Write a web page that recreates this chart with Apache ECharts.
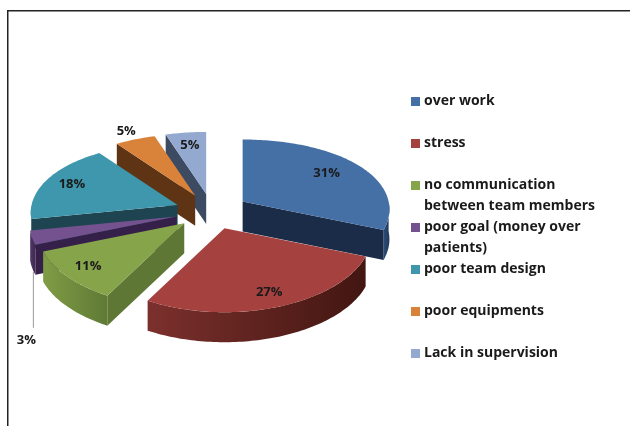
<!DOCTYPE html>
<html>
<head>
<meta charset="utf-8">
<style>html,body{margin:0;padding:0;background:#fff}#c{width:630px;height:426px}</style>
<script src="https://cdn.jsdelivr.net/npm/echarts@6/dist/echarts.min.js"></script>
</head>
<body>
<div id="c"></div>
<script>
// Causes, clockwise from twelve o'clock, with their percentage shares
const causes = ['over work', 'stress', 'no communication between team members',
  'poor goal (money over patients)', 'poor team design', 'poor equipments', 'Lack in supervision'];
const shares = [31, 27, 11, 3, 18, 5, 5];
const legendLines = [['over work'], ['stress'], ['no communication', 'between team members'],
  ['poor goal (money over', 'patients)'], ['poor team design'], ['poor equipments'], ['Lack in supervision']];

// Face, wall and rim colours per slice
const topColors  = ['#4570a6', '#a5423f', '#86a44a', '#74528f', '#3e97ad', '#d9833a', '#93a9cf'];
const wallColors = ['#1a2c47', '#5c201d', '#5f7735', '#35204a', '#1d4450', '#5e3414', '#3c4b62'];
const rimLeft    = ['#2d4d76', '#7c302d', '#7f9c45', '#523668', '#2a6a7a', '#9a5a25', '#5c6c88'];
const rimRight   = ['#20385a', '#421611', '#5f7a35', '#3f2850', '#1f4c58', '#7a4519', '#4a5970'];

// Back-to-front painting order of the slices
const paintOrder = [6, 5, 0, 4, 3, 2, 1];

// Pie projection: centre, radii, near/far bulge, extrusion and explosion
const CX = 212, CY = 211.5, RX = 146, RY = 73, BULGE_Y = 11, BULGE_X = 0.107, DEPTH = 30, EXPLODE = 37;

// Label anchors: radial fraction, or a fixed offset from the apex for outside labels
const labelFractions = [0.74, 0.82, 0.82, null, 0.81, 1.15, 0.8];

const total = shares.reduce((a, b) => a + b, 0);
const starts = [];
shares.reduce((acc, v, i) => { starts[i] = acc; return acc + v; }, 0);

function rimPoint(theta) {
  const s = Math.sin(theta), c = Math.cos(theta);
  return [RX * s * (1 - BULGE_X * c), -RY * c + BULGE_Y * c * c];
}

function renderSlice(params, api) {
  const i = params.seriesIndex;
  const value = api.value(0);
  const a0 = starts[i] / total * Math.PI * 2;
  const a1 = a0 + value / total * Math.PI * 2;
  const mid = (a0 + a1) / 2;
  const ax = CX + EXPLODE * Math.sin(mid);
  const ay = CY - EXPLODE * 0.48 * Math.cos(mid);
  const at = (t, d) => { const p = rimPoint(t); return [ax + p[0], ay + p[1] + (d || 0)]; };

  const arc = [];
  const steps = Math.max(6, Math.ceil((a1 - a0) / 0.02));
  for (let k = 0; k <= steps; k++) arc.push(at(a0 + (a1 - a0) * k / steps));

  const children = [];
  const wall = (t) => ({
    type: 'polygon',
    shape: { points: [[ax, ay], at(t), at(t, DEPTH), [ax, ay + DEPTH]] },
    style: { fill: wallColors[i] }
  });
  // A radial wall shows only when it faces the viewer
  if (at(a0)[0] < ax) children.push(wall(a0));
  if (at(a1)[0] > ax) children.push(wall(a1));

  // Outer rim on the near half of the pie
  const r0 = Math.max(a0, Math.PI / 2), r1 = Math.min(a1, Math.PI * 1.5);
  if (r1 > r0) {
    const upper = [], lower = [];
    const n = Math.ceil((r1 - r0) / 0.02) + 1;
    for (let k = 0; k <= n; k++) {
      const t = r0 + (r1 - r0) * k / n;
      upper.push(at(t));
      lower.unshift(at(t, DEPTH));
    }
    children.push({
      type: 'polygon',
      shape: { points: upper.concat(lower) },
      style: {
        fill: {
          type: 'linear', x: 0, y: 0, x2: 1, y2: 0,
          colorStops: [{ offset: 0, color: rimLeft[i] }, { offset: 1, color: rimRight[i] }]
        }
      }
    });
  }

  children.push({
    type: 'polygon',
    shape: { points: [[ax, ay]].concat(arc) },
    style: { fill: topColors[i] }
  });

  let lx, ly;
  const f = labelFractions[i];
  if (f === null) {
    // Small slice: label sits below the pie on a leader line
    const foot = at(a0, DEPTH * 0.9);
    children.push({
      type: 'line',
      shape: { x1: foot[0] - 2, y1: foot[1], x2: foot[0] - 2, y2: foot[1] + 56 },
      style: { stroke: '#9a9a9a', lineWidth: 1 }
    });
    lx = foot[0] - 9;
    ly = foot[1] + 68;
  } else {
    const p = rimPoint(mid);
    lx = ax + p[0] * f;
    ly = ay + p[1] * f;
  }
  children.push({
    type: 'text',
    z2: 10,
    style: {
      x: lx, y: ly, text: value + '%', align: 'center', verticalAlign: 'middle',
      font: 'bold 13px "Open Sans", Lato, sans-serif', fill: '#1a1a1a'
    }
  });
  return { type: 'group', children };
}

const LEGEND_TOP = 101, LEGEND_STEP = 42, LINE = 21;

const option = {
  animation: false,
  backgroundColor: '#fff',
  graphic: [
    { type: 'rect', shape: { x: 7, y: 10, width: 623, height: 1.5 }, style: { fill: '#222' } },
    { type: 'rect', shape: { x: 7, y: 10, width: 1.5, height: 416 }, style: { fill: '#222' } }
  ],
  // One legend block per cause; a leading blank line keeps the swatch beside the first text line
  legend: causes.map((name, i) => {
    const lines = legendLines[i];
    const two = lines.length > 1;
    return {
      data: [name],
      left: 406,
      top: LEGEND_TOP + LEGEND_STEP * i - (two ? LINE * 1.5 : LINE / 2) - 5 + 0.5,
      padding: 5,
      icon: 'rect',
      itemWidth: 9,
      itemHeight: 9,
      itemGap: 0,
      selectedMode: false,
      formatter: () => (two ? '\n' : '') + lines.join('\n'),
      textStyle: {
        fontFamily: '"Open Sans", Lato, sans-serif', fontWeight: 'bold', fontSize: 14,
        lineHeight: LINE, color: '#1a1a1a', padding: [0, 0, 0, -1]
      }
    };
  }),
  series: causes.map((name, i) => ({
    type: 'custom',
    name,
    coordinateSystem: 'none',
    renderItem: renderSlice,
    itemStyle: { color: topColors[i] },
    z: 2 + paintOrder.indexOf(i),
    silent: true,
    data: [[shares[i]]]
  }))
};

echarts.init(document.getElementById('c'), null, { renderer: 'canvas' }).setOption(option);
</script>
</body>
</html>
